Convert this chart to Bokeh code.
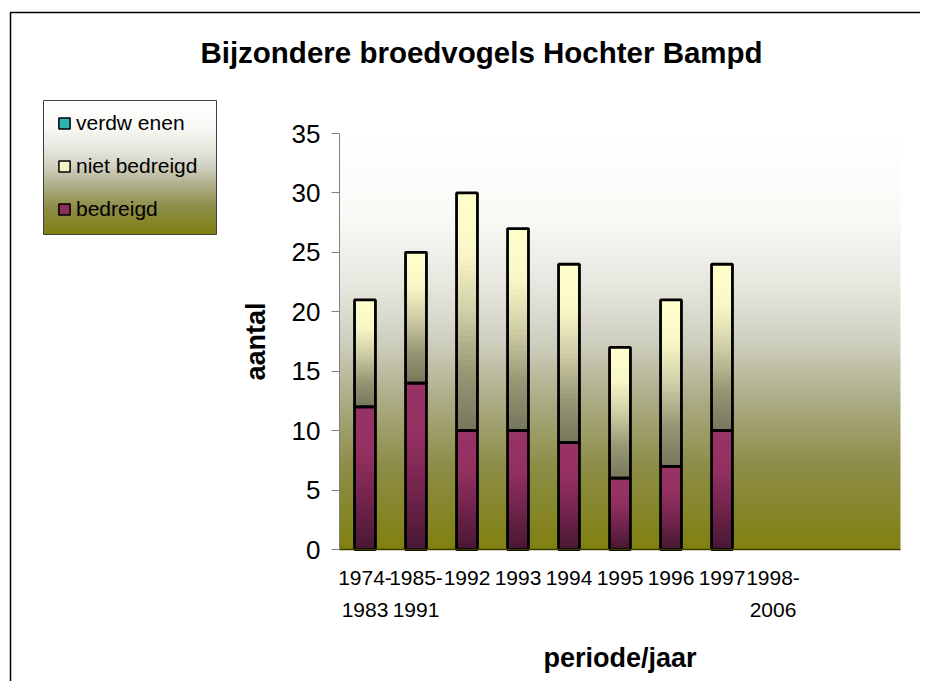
import numpy as np
from bokeh.plotting import figure
from bokeh.models import (ColumnDataSource, FixedTicker, Legend, LegendItem,
                          BoxAnnotation, Range1d, Label)
from bokeh.embed import file_html
from bokeh.resources import INLINE

# ---------------- data ----------------
title_text = "Bijzondere broedvogels Hochter Bampd"
categories = ["1974-\n1983", "1985-\n1991", "1992", "1993", "1994",
              "1995", "1996", "1997", "1998-\n2006"]
bedreigd = [12, 14, 10, 10, 9, 6, 7, 10, 0]
niet_bedreigd = [9, 11, 20, 17, 15, 11, 14, 14, 0]
verdwenen = [0, 0, 0, 0, 0, 0, 0, 0, 0]
legend_labels = ["verdw enen", "niet bedreigd", "bedreigd"]
y_ticks = [0, 5, 10, 15, 20, 25, 30, 35]
n_slots = 11
y_max = 35

FONT = "Liberation Sans"

# ---------------- colours ----------------
bg_stops = [(0.0, (255, 255, 255)), (0.2, (249, 249, 246)), (0.35, (233, 233, 226)),
            (0.5, (207, 207, 192)), (0.65, (170, 170, 130)), (0.8, (141, 141, 72)),
            (1.0, (128, 128, 16))]
niet_stops = [(0.0, (255, 255, 204)), (0.25, (249, 247, 199)), (0.5, (208, 206, 166)),
              (0.75, (152, 152, 118)), (1.0, (118, 118, 92))]
bed_stops = [(0.0, (153, 51, 102)), (0.3, (149, 49, 99)), (0.6, (120, 38, 80)),
             (1.0, (72, 24, 50))]
verd_stops = [(0.0, (51, 204, 204)), (1.0, (30, 120, 120))]


def interp(stops, t):
    for (t0, c0), (t1, c1) in zip(stops[:-1], stops[1:]):
        if t <= t1:
            f = 0 if t1 == t0 else (t - t0) / (t1 - t0)
            return tuple(c0[k] + (c1[k] - c0[k]) * f for k in range(3))
    return stops[-1][1]


def hexc(rgb):
    return "#%02x%02x%02x" % tuple(int(round(c)) for c in rgb)


def gradient_image(n_rows, stops):
    img = np.empty((n_rows, 1), dtype=np.uint32)
    view = img.view(dtype=np.uint8).reshape((n_rows, 1, 4))
    for r in range(n_rows):
        c = interp(stops, 1.0 - (r + 0.5) / n_rows)  # row 0 is bottom
        view[r, 0, 0] = int(round(c[0]))
        view[r, 0, 1] = int(round(c[1]))
        view[r, 0, 2] = int(round(c[2]))
        view[r, 0, 3] = 255
    return img


# ---------------- layout (canvas pixels) ----------------
W, H = 920, 681
PL, PR, PT, PB = 339, 900, 133, 549          # plot-area edges
sx_unit = (PR - PL) / n_slots
sy_unit = (PB - PT) / y_max
x0 = 0.5 - PL / sx_unit
x1 = 0.5 + n_slots + (W - PR) / sx_unit
y0 = -(H - PB) / sy_unit
y1 = y_max + PT / sy_unit


def px2x(px):
    return x0 + px / sx_unit


def px2y(py):
    return y0 + (H - py) / sy_unit


p = figure(width=W, height=H, output_backend="svg", toolbar_location=None,
           x_range=Range1d(x0, x1), y_range=Range1d(y0, y1),
           min_border_left=0, min_border_right=0, min_border_top=0,
           min_border_bottom=0)
p.xgrid.visible = False
p.ygrid.visible = False
p.outline_line_color = None
p.background_fill_color = "white"
p.border_fill_color = "white"

# plot-area gradient
p.image_rgba(image=[gradient_image(PB - PT, bg_stops)], x=0.5, y=0,
             dw=n_slots, dh=y_max)

# legend-box gradient
LB_L, LB_R, LB_T, LB_B = 43, 216, 100, 234
p.image_rgba(image=[gradient_image(LB_B - LB_T, bg_stops)], x=px2x(LB_L), y=px2y(LB_B),
             dw=(LB_R - LB_L) / sx_unit, dh=(LB_B - LB_T) / sy_unit)

# bars (gradient slices + outlines)
xpos = np.arange(1, len(categories) + 1)
BAR_W = 0.41
NS = 40
sx, sb, st, sc = [], [], [], []
ox, ob, ot = [], [], []
base = np.zeros(len(categories))
for vals, stops in [(bedreigd, bed_stops), (niet_bedreigd, niet_stops), (verdwenen, verd_stops)]:
    v = np.array(vals, dtype=float)
    for i in range(len(categories)):
        if v[i] <= 0:
            continue
        edges = np.linspace(base[i], base[i] + v[i], NS + 1)
        for k in range(NS):
            t_top = 1.0 - (k + 0.5) / NS
            sx.append(xpos[i]); sb.append(edges[k]); st.append(edges[k + 1])
            sc.append(hexc(interp(stops, t_top)))
        ox.append(xpos[i]); ob.append(base[i]); ot.append(base[i] + v[i])
    base = base + v

slices = ColumnDataSource(dict(x=sx, bottom=sb, top=st, color=sc))
p.vbar(x="x", bottom="bottom", top="top", width=BAR_W, source=slices,
       fill_color="color", line_color="color", line_width=1)
outl = ColumnDataSource(dict(x=ox, bottom=ob, top=ot))
p.vbar(x="x", bottom="bottom", top="top", width=BAR_W, source=outl,
       fill_alpha=0, line_color="black", line_width=2.8)

# ---------------- axes (fixed at the plot-area edges) ----------------
yax = p.yaxis[0]
yax.fixed_location = 0.5
yax.bounds = (0, y_max)
yax.ticker = FixedTicker(ticks=y_ticks)
yax.axis_line_color = "#808080"
yax.major_tick_line_color = "#808080"
yax.major_tick_out = 8
yax.major_tick_in = 0
yax.minor_tick_line_color = None
yax.major_label_text_font = FONT
yax.major_label_text_font_size = "26px"
yax.major_label_text_color = "black"
yax.major_label_standoff = 11
yax.axis_label = "aantal"
yax.axis_label_text_font = FONT
yax.axis_label_text_font_style = "bold"
yax.axis_label_text_font_size = "27px"
yax.axis_label_text_color = "black"
yax.axis_label_standoff = 18

xax = p.xaxis[0]
xax.fixed_location = 0
xax.bounds = (0.5, 0.5 + n_slots)
xax.ticker = FixedTicker(ticks=[int(x) for x in xpos])
xax.major_label_overrides = {int(x): c for x, c in zip(xpos, categories)}
xax.axis_line_color = "#3c3c00"
xax.axis_line_width = 1.5
xax.major_tick_line_color = None
xax.minor_tick_line_color = None
xax.major_label_text_font = FONT
xax.major_label_text_font_size = "21px"
xax.major_label_text_line_height = 1.4
xax.major_label_text_color = "black"
xax.major_label_standoff = 10
xax.axis_label = "periode/jaar"
xax.axis_label_text_font = FONT
xax.axis_label_text_font_style = "bold"
xax.axis_label_text_font_size = "27px"
xax.axis_label_text_color = "black"
xax.axis_label_standoff = 19

# ---------------- decorations ----------------
p.add_layout(BoxAnnotation(left=10, right=W + 200, top=H - 12, bottom=-200,
                           left_units="screen", right_units="screen",
                           top_units="screen", bottom_units="screen",
                           fill_alpha=0, line_color="black", line_width=1.5,
                           line_alpha=1))
p.add_layout(BoxAnnotation(left=LB_L, right=LB_R, top=H - LB_T, bottom=H - LB_B,
                           left_units="screen", right_units="screen",
                           top_units="screen", bottom_units="screen",
                           fill_alpha=0, line_color="#404040", line_width=1,
                           line_alpha=1))
p.add_layout(Label(x=481, y=H - 52, x_units="screen", y_units="screen",
                   text=title_text, text_align="center",
                   text_baseline="alphabetic", text_font=FONT,
                   text_font_style="bold", text_font_size="29.5px",
                   text_color="black"))

# legend (swatch renderers hold no drawable data)
nan_src = dict(x=np.array([np.nan]), top=np.array([np.nan]))
r_verd = p.vbar(x="x", top="top", source=ColumnDataSource(nan_src), width=1,
                fill_color="#2fb4b4", line_color="black", line_width=1.5)
r_niet = p.vbar(x="x", top="top", source=ColumnDataSource(dict(nan_src)), width=1,
                fill_color="#f4f2c4", line_color="black", line_width=1.5)
r_bed = p.vbar(x="x", top="top", source=ColumnDataSource(dict(nan_src)), width=1,
               fill_color="#8a2f5c", line_color="black", line_width=1.5)
legend = Legend(items=[LegendItem(label=legend_labels[0], renderers=[r_verd]),
                       LegendItem(label=legend_labels[1], renderers=[r_niet]),
                       LegendItem(label=legend_labels[2], renderers=[r_bed])],
                location=(47, H - 231))
legend.background_fill_alpha = 0
legend.border_line_alpha = 0
legend.label_text_font = FONT
legend.label_text_font_size = "21px"
legend.label_text_color = "black"
legend.glyph_width = 14
legend.glyph_height = 14
legend.label_height = 25
legend.label_standoff = 5
legend.spacing = 18
legend.padding = 10
legend.margin = 0
p.add_layout(legend)

open("out.html", "w").write(file_html(p, INLINE))
